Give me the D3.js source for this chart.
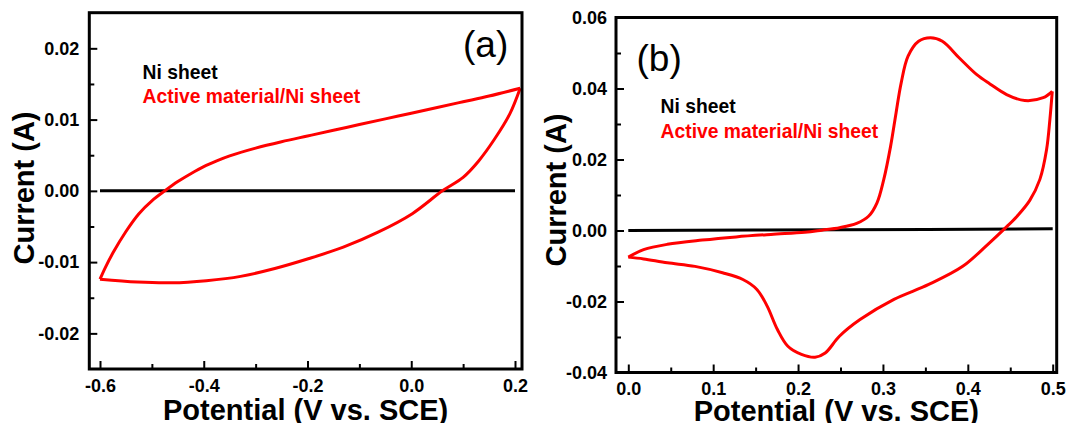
<!DOCTYPE html>
<html>
<head>
<meta charset="utf-8">
<script src="https://cdn.jsdelivr.net/npm/d3@7/dist/d3.min.js"></script>
<style>
  body { margin: 0; background: #fff; }
  svg text { font-family: "Liberation Sans", Arial, sans-serif; }
</style>
</head>
<body>
<div id="chart"></div>
<script>
// ---- data (potential V vs. SCE, current A) ----
// panel (a): anodic sweep -0.6 -> 0.21 and cathodic sweep back
var aForward = [[-0.6, -0.0124], [-0.59, -0.0108], [-0.575, -0.0087], [-0.55, -0.0057], [-0.525, -0.0032],
  [-0.5, -0.0014], [-0.475, 0.0], [-0.45, 0.0013], [-0.425, 0.0024], [-0.4, 0.0034], [-0.375, 0.0042],
  [-0.35, 0.0049], [-0.3, 0.006], [-0.25, 0.0069], [-0.2, 0.0077], [-0.15, 0.0085], [-0.1, 0.0093],
  [-0.05, 0.0101], [0.0, 0.0109], [0.05, 0.0117], [0.1, 0.0125], [0.15, 0.0133], [0.21, 0.0144]];
var aBackward = [[0.21, 0.0144], [0.19, 0.0108], [0.16, 0.0072], [0.13, 0.0042], [0.1, 0.0019],
  [0.06, 0.0], [0.002, -0.0032], [-0.064, -0.0058], [-0.131, -0.0079], [-0.197, -0.0095],
  [-0.263, -0.0109], [-0.329, -0.0120], [-0.395, -0.0126], [-0.462, -0.0129], [-0.528, -0.0128], [-0.6, -0.0124]];
var aNi = [[-0.6, 0.0], [-0.2, 0.0], [0.2, 0.0]];

// panel (b)
var bForward = [[0.0, -0.0075], [0.018, -0.0054], [0.046, -0.0039], [0.087, -0.0027], [0.127, -0.0018],
  [0.168, -0.0011], [0.208, -0.0005], [0.228, 0.0001], [0.249, 0.0008], [0.269, 0.002], [0.283, 0.004],
  [0.293, 0.0078], [0.301, 0.0144], [0.309, 0.0237], [0.3155, 0.0332], [0.3215, 0.0416], [0.3296, 0.0491],
  [0.342, 0.0533], [0.356, 0.0543], [0.370, 0.0533], [0.390, 0.0486], [0.4106, 0.0439], [0.426, 0.0413],
  [0.4457, 0.0383], [0.467, 0.0366], [0.4888, 0.0374], [0.4995, 0.0392]];
var bBackward = [[0.4995, 0.0392], [0.4967, 0.0313], [0.4928, 0.0228], [0.4849, 0.0144], [0.473, 0.0085],
  [0.4575, 0.0039], [0.4437, 0.0006], [0.4227, -0.0041], [0.394, -0.0101], [0.354, -0.0152], [0.313, -0.0194],
  [0.273, -0.0251], [0.2487, -0.0298], [0.232, -0.0345], [0.220, -0.0357], [0.204, -0.0349], [0.188, -0.0326],
  [0.1757, -0.0279], [0.1636, -0.0213], [0.1515, -0.0166], [0.135, -0.0138], [0.111, -0.0119], [0.0786, -0.0101],
  [0.046, -0.0091], [0.018, -0.008], [0.0, -0.0075]];
var bNi = [[0.0, 0.0], [0.25, 0.0002], [0.5, 0.0005]];

// tick values
var aXTicks = [-0.6, -0.4, -0.2, 0.0, 0.2];
var aXMinor = [-0.5, -0.3, -0.1, 0.1];
var aYTicks = [-0.02, -0.01, 0.0, 0.01, 0.02];
var aYMinor = [-0.015, -0.005, 0.005, 0.015];
var bXTicks = [0.0, 0.1, 0.2, 0.3, 0.4, 0.5];
var bXMinor = [0.05, 0.15, 0.25, 0.35, 0.45];
var bYTicks = [-0.04, -0.02, 0.0, 0.02, 0.04, 0.06];
var bYMinor = [-0.03, -0.01, 0.01, 0.03, 0.05];

var legendNames = ["Ni sheet", "Active material/Ni sheet"];
var legendColors = ["#000", "#ff0000"];

var width = 1069, height = 423;

var svg = d3.select("#chart").append("svg")
  .attr("width", width)
  .attr("height", height);

svg.append("rect").attr("width", width).attr("height", height).attr("fill", "#fff");

function fmt(p) {
  var f = d3.format("." + p + "f");
  return function(d) { return f(d).replace("\u2212", "-"); };
}

// draw one panel
function drawPanel(cfg) {
  var x = d3.scaleLinear().domain(cfg.xDom).range(cfg.xRange);
  var y = d3.scaleLinear().domain(cfg.yDom).range(cfg.yRange);
  var g = svg.append("g");

  // curves
  var line = d3.line()
    .x(function(d) { return x(d[0]); })
    .y(function(d) { return y(d[1]); })
    .curve(d3.curveCatmullRom.alpha(0.5));

  g.append("path").datum(cfg.ni)
    .attr("d", line)
    .attr("fill", "none").attr("stroke", "#000").attr("stroke-width", 3);

  [cfg.fwd, cfg.bwd].forEach(function(br) {
    g.append("path").datum(br)
      .attr("d", line)
      .attr("fill", "none").attr("stroke", "#ff0000")
      .attr("stroke-width", 3).attr("stroke-linejoin", "round");
  });

  // axes with inward ticks
  g.append("g")
    .attr("transform", "translate(0," + cfg.frame.bottom + ")")
    .call(d3.axisBottom(x).tickValues(cfg.xTicks).tickFormat(fmt(1)).tickSize(-8).tickPadding(10));
  g.append("g")
    .attr("transform", "translate(0," + cfg.frame.bottom + ")")
    .call(d3.axisBottom(x).tickValues(cfg.xMinor).tickFormat("").tickSize(-5));
  g.append("g")
    .attr("transform", "translate(" + cfg.frame.left + ",0)")
    .call(d3.axisLeft(y).tickValues(cfg.yTicks).tickFormat(fmt(2)).tickSize(-8).tickPadding(cfg.yPad));
  g.append("g")
    .attr("transform", "translate(" + cfg.frame.left + ",0)")
    .call(d3.axisLeft(y).tickValues(cfg.yMinor).tickFormat("").tickSize(-5));

  g.selectAll(".domain").remove();
  g.selectAll(".tick line").attr("stroke", "#000").attr("stroke-width", 2);
  g.selectAll(".tick text")
    .attr("fill", "#000")
    .style("font-size", "18px")
    .style("font-weight", "bold");

  // frame
  g.append("rect")
    .attr("x", cfg.frame.left).attr("y", cfg.frame.top)
    .attr("width", cfg.frame.right - cfg.frame.left)
    .attr("height", cfg.frame.bottom - cfg.frame.top)
    .attr("fill", "none").attr("stroke", "#000").attr("stroke-width", 3);

  // axis titles
  g.append("text")
    .attr("x", (cfg.frame.left + cfg.frame.right) / 2)
    .attr("y", cfg.xTitleY)
    .attr("text-anchor", "middle")
    .style("font-size", "29px").style("font-weight", "bold")
    .text("Potential (V vs. SCE)");

  g.append("text")
    .attr("transform", "translate(" + cfg.yTitleX + "," + cfg.yTitleCy + ") rotate(-90)")
    .attr("text-anchor", "middle")
    .style("font-size", "29px").style("font-weight", "bold")
    .text("Current (A)");

  // panel letter
  g.append("text")
    .attr("x", cfg.letterX).attr("y", cfg.letterY)
    .style("font-size", "37px")
    .text(cfg.letter);

  // legend
  g.selectAll(".leg").data(legendNames).enter().append("text")
    .attr("x", cfg.legX)
    .attr("y", function(d, i) { return cfg.legY + i * 24.5; })
    .attr("fill", function(d, i) { return legendColors[i]; })
    .style("font-size", "19.3px").style("font-weight", "bold")
    .text(function(d) { return d; });
}

drawPanel({
  xDom: [-0.6, 0.2], xRange: [100, 515],
  yDom: [-0.025, 0.025], yRange: [369, 12.7],
  frame: { left: 89.3, right: 522, top: 12.7, bottom: 369 },
  xTicks: aXTicks, xMinor: aXMinor, yTicks: aYTicks, yMinor: aYMinor,
  fwd: aForward, bwd: aBackward, ni: aNi,
  yPad: 10, xTitleY: 420, yTitleX: 33.5, yTitleCy: 188,
  letter: "(a)", letterX: 463, letterY: 57,
  legX: 142.6, legY: 78.5
});

drawPanel({
  xDom: [0.0, 0.5], xRange: [628.3, 1052.7],
  yDom: [-0.04, 0.06], yRange: [372.5, 17.5],
  frame: { left: 616, right: 1056.7, top: 17.5, bottom: 372.5 },
  xTicks: bXTicks, xMinor: bXMinor, yTicks: bYTicks, yMinor: bYMinor,
  fwd: bForward, bwd: bBackward, ni: bNi,
  yPad: 9, xTitleY: 421, yTitleX: 566, yTitleCy: 190,
  letter: "(b)", letterX: 636.5, letterY: 70.5,
  legX: 660.6, legY: 113
});
</script>
</body>
</html>
